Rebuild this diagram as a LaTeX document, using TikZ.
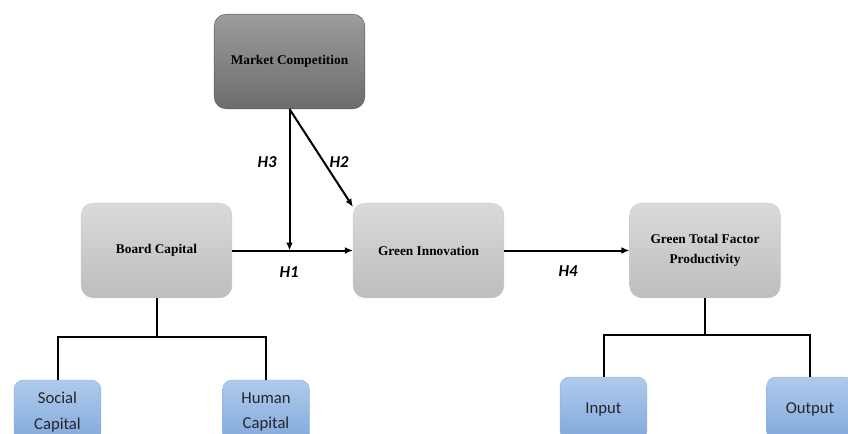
\documentclass[tikz,border=0pt]{standalone}
\usepackage{fontspec}
\setmainfont{Liberation Serif}
\newfontfamily\calibri{Carlito}
\usepackage{tikz}
\usetikzlibrary{arrows.meta}
\definecolor{boxtop}{HTML}{DADADA}
\definecolor{boxbot}{HTML}{BDBDBD}
\definecolor{darktop}{HTML}{9C9C9C}
\definecolor{darkbot}{HTML}{6C6C6C}
\definecolor{leaftop}{HTML}{AECBEC}
\definecolor{leafbot}{HTML}{80A8DA}
\tikzstyle{box}=[rounded corners=9pt,minimum width=113pt,minimum height=71pt,
  top color=boxtop,bottom color=boxbot,draw=boxbot!80,line width=0.3pt,
  align=center,font=\bfseries\fontsize{10}{15}\selectfont]
\tikzstyle{darkbox}=[box,top color=darktop,bottom color=darkbot,draw=darkbot!80!black]
\tikzstyle{leaf}=[rounded corners=7pt,minimum width=65pt,minimum height=48pt,
  top color=leaftop,bottom color=leafbot,draw=leafbot!90,line width=0.3pt,
  align=center,text=black!85,font=\calibri\fontsize{12.5}{19}\selectfont]
\tikzstyle{hyp}=[font=\calibri\bfseries\itshape\fontsize{12.5}{14}\selectfont]

\begin{document}
\begin{tikzpicture}[x=0.75pt,y=-0.75pt,line width=1.5pt,
    >={Latex[length=6pt,width=5pt]}]
  \useasboundingbox (0,0) rectangle (848,433);
  \clip (0,0) rectangle (848,433);

  \node[darkbox] (mc) at (289.5,61.5) {Market Competition};
  \node[box] (bc) at (156.5,250.5) {Board Capital};
  \node[box] (gi) at (428.5,250.5) {Green Innovation};
  \node[box] (gt) at (705,250.5) {Green Total Factor\\Productivity};

  \foreach \n/\x/\y/\t in {sc/57.5/412/{Social\\Capital},hc/266/412/{Human\\Capital},
      in/603.5/409/{Input},out/810/409/{Output}}{
    \node[leaf] (\n) at (\x,\y) {\t};
  }

  % hypotheses
  \coordinate (h3end) at (mc.south |- bc.east);
  \draw[->] (bc.east) -- (gi.west);
  \draw[->] (mc.south) -- (h3end);
  \draw[->] (mc.south) -- (gi.150);
  \draw[->] (gi.east) -- (gt.west);

  \node[hyp] (h1) at (289,272) {H1};
  \node[hyp] (h2) at (339,162) {H2};
  \node[hyp] (h3) at (267,162) {H3};
  \node[hyp] (h4) at (568,271) {H4};

  % trees
  \coordinate (bcj) at (bc.south |- 0,337);
  \coordinate (gtj) at (gt.south |- 0,335);
  \draw (bc.south) -- (bcj);
  \draw (sc.north) |- (bcj) -| (hc.north);
  \draw (gt.south) -- (gtj);
  \draw (in.north) |- (gtj) -| (out.north);
\end{tikzpicture}
\end{document}
